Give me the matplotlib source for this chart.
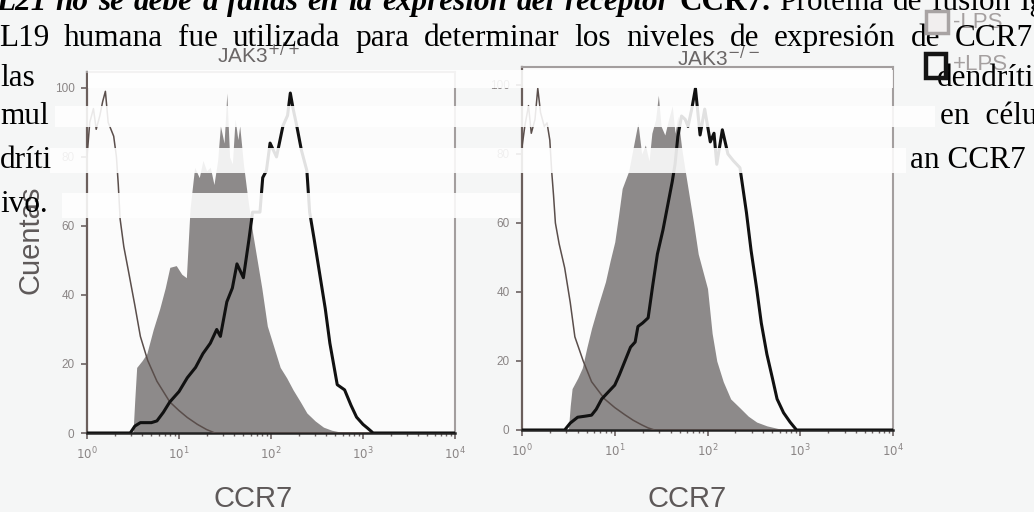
import numpy as np
import matplotlib
matplotlib.use("Agg")
import matplotlib.pyplot as plt
from matplotlib.patches import Rectangle

W, H = 1034, 512

# ---------------- data (x in decades of CCR7 intensity, y = counts %) ----------------
left_gray_logx = [0.0, 0.5, 0.52, 0.54, 0.6, 0.65, 0.72, 0.79, 0.85, 0.9, 0.97, 1.03, 1.08, 1.12, 1.17,
                  1.22, 1.26, 1.3, 1.34, 1.38, 1.42, 1.45, 1.49, 1.52, 1.55, 1.58, 1.61, 1.64, 1.66, 1.7,
                  1.74, 1.8, 1.85, 1.9, 1.96, 2.03, 2.1, 2.17, 2.24, 2.32, 2.39, 2.48, 2.57, 2.66, 2.75, 4.0]
left_gray_y = [0, 0, 10, 19, 21, 23, 30, 36, 42, 48, 48.5, 46, 45, 65, 77,
               74, 79, 76, 77, 72, 79, 89, 84, 98.5, 80, 78, 91, 85, 89, 78,
               69.5, 58, 50, 42, 31, 25, 19, 16, 12.5, 9, 5.8, 3.5, 1.7, 0.8, 0.3, 0]

left_thin_logx = [0.0, 0.03, 0.07, 0.1, 0.14, 0.17, 0.2, 0.23, 0.26, 0.29, 0.32, 0.34, 0.36, 0.4, 0.45,
                  0.52, 0.58, 0.66, 0.76, 0.9, 1.0, 1.09, 1.2, 1.3, 1.39, 4.0]
left_thin_y = [80, 90, 94, 88, 92, 96, 99, 90, 88, 86, 80, 72, 62, 54, 47,
               37, 28, 21, 15, 9, 6.5, 4.5, 2.5, 1, 0, 0]

left_black_logx = [0.0, 0.47, 0.52, 0.58, 0.7, 0.76, 0.83, 0.9, 1.0, 1.09, 1.18, 1.26, 1.34, 1.41, 1.45,
                   1.52, 1.58, 1.63, 1.7, 1.76, 1.8, 1.88, 1.91, 1.95, 1.99, 2.06, 2.13, 2.18, 2.21, 2.24,
                   2.28, 2.33, 2.39, 2.42, 2.47, 2.53, 2.59, 2.64, 2.72, 2.8, 2.87, 2.93, 3.0, 3.05, 3.11, 4.0]
left_black_y = [0, 0, 2, 3, 3, 3.5, 6, 9, 12, 16, 19, 23, 26, 30, 28,
                38, 42, 49, 45, 56, 64, 64, 74, 76, 84, 80, 89, 92, 98.5, 94,
                89, 82, 76, 64, 56, 46, 36, 26, 14, 12.5, 8, 4.6, 2.5, 1.4, 0, 0]

right_gray_logx = [0.0, 0.5, 0.52, 0.54, 0.6, 0.65, 0.7, 0.75, 0.82, 0.9, 0.95, 1.0, 1.04, 1.08, 1.15,
                   1.2, 1.25, 1.29, 1.33, 1.37, 1.4, 1.44, 1.47, 1.5, 1.54, 1.58, 1.62, 1.65, 1.68, 1.72,
                   1.76, 1.79, 1.85, 1.9, 1.95, 2.0, 2.05, 2.1, 2.17, 2.25, 2.35, 2.44, 2.53, 2.64, 2.75,
                   2.85, 4.0]
right_gray_y = [0, 0, 7, 12, 15, 18, 24, 29.5, 36, 43, 49, 54.5, 62, 70, 75,
                82, 89, 80, 82.6, 78, 86, 90, 97, 88, 85.5, 90, 94, 86, 91, 82,
                75, 70, 60, 51, 46, 41, 28, 20, 14, 9, 6.4, 4, 2.3, 1.2, 0.5,
                0, 0]

right_thin_logx = [0.0, 0.03, 0.07, 0.1, 0.14, 0.17, 0.2, 0.24, 0.27, 0.3, 0.32, 0.34, 0.36, 0.4, 0.46,
                   0.52, 0.57, 0.66, 0.75, 0.89, 1.0, 1.11, 1.2, 1.29, 1.36, 1.43, 4.0]
right_thin_y = [82, 88, 94, 86, 90, 99, 92, 88, 89, 84, 75, 68, 60, 54, 47,
                37, 27, 20, 14, 9, 6.5, 4.4, 2.8, 1.5, 0.6, 0, 0]

right_black_logx = [0.0, 0.46, 0.52, 0.6, 0.68, 0.75, 0.8, 0.86, 0.93, 1.0, 1.05, 1.11, 1.17, 1.22, 1.25,
                    1.3, 1.36, 1.41, 1.46, 1.52, 1.57, 1.62, 1.65, 1.68, 1.72, 1.76, 1.79, 1.83, 1.87, 1.92,
                    1.97, 2.03, 2.07, 2.1, 2.16, 2.22, 2.28, 2.35, 2.42, 2.47, 2.53, 2.58, 2.64, 2.7, 2.75,
                    2.82, 2.89, 2.96, 4.0]
right_black_y = [0, 0, 2, 3.7, 4, 4.3, 6, 9, 11, 13, 16, 20, 24, 25.5, 30,
                 31, 32.5, 42, 51, 58, 65, 72, 77, 85, 91, 90, 88, 93, 99, 85.5,
                 93, 83.5, 86, 77, 87, 80, 78, 76, 63, 52, 41, 31, 22, 15, 9,
                 5, 2.3, 0, 0]

y_ticks = [0, 20, 40, 60, 80, 100]
x_ticks = [1, 10, 100, 1000, 10000]
x_ticklabels = [r"$10^{0}$", r"$10^{1}$", r"$10^{2}$", r"$10^{3}$", r"$10^{4}$"]
titles = [r"JAK3$^{+/+}$", r"JAK3$^{-/-}$"]
legend_labels = ["-LPS", "+LPS"]

# ---------------- figure ----------------
fig = plt.figure(figsize=(W / 100, H / 100), dpi=100)
fig.patch.set_facecolor("#f5f6f6")


def fx(x):
    return x / W


def fy(y):
    return 1 - y / H


SANS = ["Liberation Sans", "DejaVu Sans"]
SERIF = ["Liberation Serif", "DejaVu Serif"]


def make_axes(rect_px, ytop, gx, gy, tx, ty, bx, by):
    x0, y0, x1, y1 = rect_px
    ax = fig.add_axes([fx(x0), fy(y1), (x1 - x0) / W, (y1 - y0) / H])
    ax.set_facecolor("#fbfbfb")
    ax.fill_between(np.power(10.0, gx), gy, 0, color="#8d8a8a", lw=0, zorder=2)
    ax.plot(np.power(10.0, tx), ty, color="#5a4e4b", lw=1.1, zorder=3)
    ax.plot(np.power(10.0, bx), by, color="#111111", lw=2.2, zorder=4, solid_joinstyle="round")
    ax.set_xscale("log")
    ax.set_xlim(1, 10000)
    ax.set_ylim(0, ytop)
    ax.set_xticks(x_ticks)
    ax.set_xticklabels(x_ticklabels)
    ax.set_yticks(y_ticks)
    ax.tick_params(axis="both", which="major", direction="out", length=4, width=1.2,
                   color="#6b6262", labelcolor="#8a8585", labelsize=8.5, pad=5)
    ax.tick_params(axis="x", which="minor", direction="out", length=2.5, width=1.0, color="#6b6262")
    for lab in ax.get_xticklabels() + ax.get_yticklabels():
        lab.set_family(SANS)
    ax.spines["left"].set_color("#6b5f5c")
    ax.spines["left"].set_linewidth(1.6)
    ax.spines["bottom"].set_color("#222222")
    ax.spines["bottom"].set_linewidth(1.8)
    for s in ("top", "right"):
        ax.spines[s].set_color("#a39e9e")
        ax.spines[s].set_linewidth(1.5)
    return ax


axL = make_axes((87, 72, 455, 433), 104.6, left_gray_logx, left_gray_y,
                left_thin_logx, left_thin_y, left_black_logx, left_black_y)
axR = make_axes((522, 67, 893, 430), 105.2, right_gray_logx, right_gray_y,
                right_thin_logx, right_thin_y, right_black_logx, right_black_y)

# titles and axis labels
fig.text(fx(258), fy(55), titles[0], ha="center", va="center", fontsize=15,
         color="#6a6666", family=SANS)
fig.text(fx(718), fy(58), titles[1], ha="center", va="center", fontsize=15,
         color="#6a6666", family=SANS)
fig.text(fx(30), fy(240), "Cuentas", rotation=90, ha="center", va="center",
         fontsize=21, color="#5e5959", family=SANS)
fig.text(fx(253), fy(499), "CCR7", ha="center", va="center", fontsize=21,
         color="#5e5959", family=SANS)
fig.text(fx(687), fy(499), "CCR7", ha="center", va="center", fontsize=21,
         color="#5e5959", family=SANS)

# legend text (light, behind the page text)
fig.text(fx(953), fy(22), legend_labels[0], ha="left", va="center", fontsize=16,
         color="#a5a0a0", family=SANS, zorder=5)
fig.text(fx(953), fy(64), legend_labels[1], ha="left", va="center", fontsize=16,
         color="#a5a0a0", family=SANS, zorder=5)

# white erasure bands of the scanned page
for (x0, y0, x1, y1) in [(88, 70, 893, 88), (55, 106, 935, 127), (50, 148, 906, 173), (62, 193, 520, 218)]:
    fig.patches.append(Rectangle((fx(x0), fy(y1)), (x1 - x0) / W, (y1 - y0) / H,
                                 transform=fig.transFigure, facecolor="white",
                                 edgecolor="none", alpha=0.88, zorder=6))

# overlaid document text (Spanish)
FS = 22.5


def ptext(x, y, s, **kw):
    base = dict(ha="left", va="baseline", fontsize=FS, color="black", family=SERIF, zorder=7)
    base.update(kw)
    return fig.text(fx(x), fy(y), s, **base)


renderer = fig.canvas.get_renderer()


def justify(items, x0, x1, y):
    texts = [ptext(0, y, w, **kw) for w, kw in items]
    widths = [t.get_window_extent(renderer).width for t in texts]
    gap = (x1 - x0 - sum(widths)) / (len(texts) - 1)
    x = x0
    for t, w in zip(texts, widths):
        t.set_x(fx(x))
        x += w + gap


bi = dict(style="italic", weight="bold")
line0 = [(w, bi) for w in "L21 no se debe a fallas en la expresión del receptor".split()]
line0 += [("CCR7.", dict(weight="bold"))]
line0 += [(w, {}) for w in "Proteína de fusión Ig".split()]
justify(line0, -4, 1046, 10)

line1 = [(w, {}) for w in "L19 humana fue utilizada para determinar los niveles de expresión de CCR7".split()]
justify(line1, -1, 1033, 46)

ptext(0, 86, "las")
ptext(937, 86, "dendríti")
ptext(0, 124, "mul")
ptext(940, 124, "en  célu")
ptext(0, 168, "dríti")
ptext(910, 168, "an CCR7")
ptext(0, 212, "ivo.")

# legend boxes (drawn over the page text, as in the scan)
fig.patches.append(Rectangle((fx(926), fy(33)), 22 / W, 22 / H, transform=fig.transFigure,
                             facecolor="#f1eeee", edgecolor="#a8a3a3", lw=2.5, zorder=8))
fig.patches.append(Rectangle((fx(926), fy(78)), 20 / W, 24 / H, transform=fig.transFigure,
                             facecolor="none", edgecolor="#151515", lw=3.2, zorder=8))

fig.savefig("out.png", dpi=100, facecolor=fig.get_facecolor())
